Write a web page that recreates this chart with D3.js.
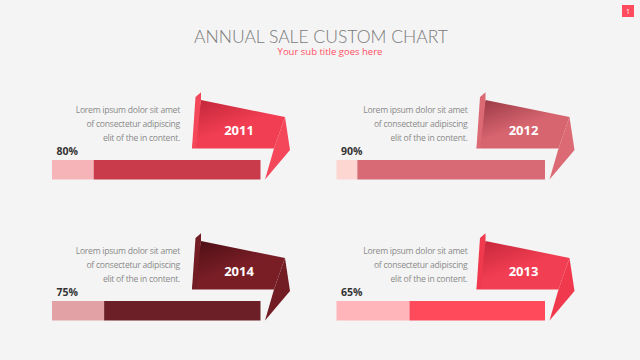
<!DOCTYPE html>
<html><head><meta charset="utf-8">
<script src="https://cdn.jsdelivr.net/npm/d3@7"></script>
<style>
html,body{margin:0;padding:0;background:#f4f4f4;}
svg{display:block;}
</style></head>
<body>
<svg id="chart" width="640" height="360"></svg>
<script>
// ---- data ----
const years = ["2011", "2012", "2014", "2013"];
const values = [80, 90, 75, 65];
const percentLabels = ["80%", "90%", "75%", "65%"];
const loremLines = ["Lorem ipsum dolor sit amet", "of consectetur adipiscing", "elit of the in content."];
const darkColors  = ["#c93a4a", "#d86a76", "#6d1f27", "#fe4a5b"];
const lightColors = ["#f6b3b8", "#fdd6d1", "#e2a1a5", "#ffb5ba"];
const flagDark    = ["#bf2538", "#973843", "#4c0e15", "#c4263a"];
const flagLight   = ["#f23e52", "#d76570", "#7a1e26", "#f23e52"];
const tailColors  = ["#f5475a", "#dc6a75", "#721c24", "#f0394d"];
const cols = [0, 1, 0, 1];
const rows = [0, 0, 1, 1];

const svg = d3.select("#chart");

// title
svg.append("text").attr("x", 321).attr("y", 43).attr("text-anchor", "middle")
  .attr("font-family", "Lato").attr("font-weight", 300).attr("font-size", 17.5)
  .attr("fill", "#7a7a7a").text("ANNUAL SALE CUSTOM CHART");
svg.append("text").attr("x", 330).attr("y", 55).attr("text-anchor", "middle")
  .attr("font-family", "Open Sans").attr("font-size", 9.5)
  .attr("fill", "#ff4f62").text("Your sub title goes here");

// page number
svg.append("rect").attr("x", 622).attr("y", 5).attr("width", 12).attr("height", 12).attr("fill", "#ff4b5d");
svg.append("text").attr("x", 628).attr("y", 13.5).attr("text-anchor", "middle")
  .attr("font-family", "Open Sans").attr("font-size", 7).attr("fill", "#fff").text("1");

// scales
const colX = d3.scalePoint().domain([0, 1]).range([52, 336.5]);
const rowY = d3.scalePoint().domain([0, 1]).range([160, 301]);
const barW = 208.5, barH = 19.5;
const x = d3.scaleLinear().domain([0, 100]).range([0, barW]);

const defs = svg.append("defs");

years.forEach((yr, i) => {
  const ox = colX(cols[i]), oy = rowY(rows[i]);
  const g = svg.append("g").attr("transform", `translate(${ox},${oy})`);

  const gid = "grad" + i;
  const grad = defs.append("linearGradient").attr("id", gid)
    .attr("x1", "0%").attr("y1", "0%").attr("x2", "70%").attr("y2", "100%");
  grad.append("stop").attr("offset", "0%").attr("stop-color", flagDark[i]);
  grad.append("stop").attr("offset", "60%").attr("stop-color", flagLight[i]);
  grad.append("stop").attr("offset", "100%").attr("stop-color", flagLight[i]);

  // flag geometry relative to bar origin
  const P = (px, py) => [px - 52, py - 160];
  const fold = [P(192, 148), P(195.5, 97), P(201, 92.3), P(201, 100), P(196, 148)];
  const main = [P(201, 100), P(285, 117), P(274, 148.5), P(192, 148.5)];
  const tail = [P(285, 117), P(290, 150), P(265, 179.5), P(274, 148.5)];
  const line = d3.line();
  g.append("path").attr("d", line(tail) + "Z").attr("fill", tailColors[i]);
  g.append("path").attr("d", line(main) + "Z").attr("fill", `url(#${gid})`);
  g.append("path").attr("d", line(fold) + "Z").attr("fill", tailColors[i]);

  g.append("text").attr("x", 239 - 52).attr("y", 134.5 - 160).attr("text-anchor", "middle")
    .attr("font-family", "Open Sans").attr("font-weight", 700).attr("font-size", 13)
    .attr("fill", "#fff").text(yr);

  const v = values[i];
  g.append("rect").attr("x", 0).attr("y", 0).attr("width", x(100 - v)).attr("height", barH)
    .attr("fill", lightColors[i]);
  g.append("rect").attr("x", x(100 - v)).attr("y", 0).attr("width", x(v)).attr("height", barH)
    .attr("fill", darkColors[i]);

  g.append("text").attr("x", 4.5).attr("y", -5).attr("font-family", "Open Sans")
    .attr("font-weight", 700).attr("font-size", 10.5).attr("fill", "#333").text(percentLabels[i]);

  loremLines.forEach((t, k) => {
    g.append("text").attr("x", 180 - 52 + (cols[i] ? 3 : 0)).attr("y", 113 + k * 14 - 160)
      .attr("text-anchor", "end").attr("font-family", "Open Sans").attr("font-size", 8.6)
      .attr("letter-spacing", -0.25)
      .attr("fill", "#8a8a8a").text(t);
  });
});
</script>
</body></html>
